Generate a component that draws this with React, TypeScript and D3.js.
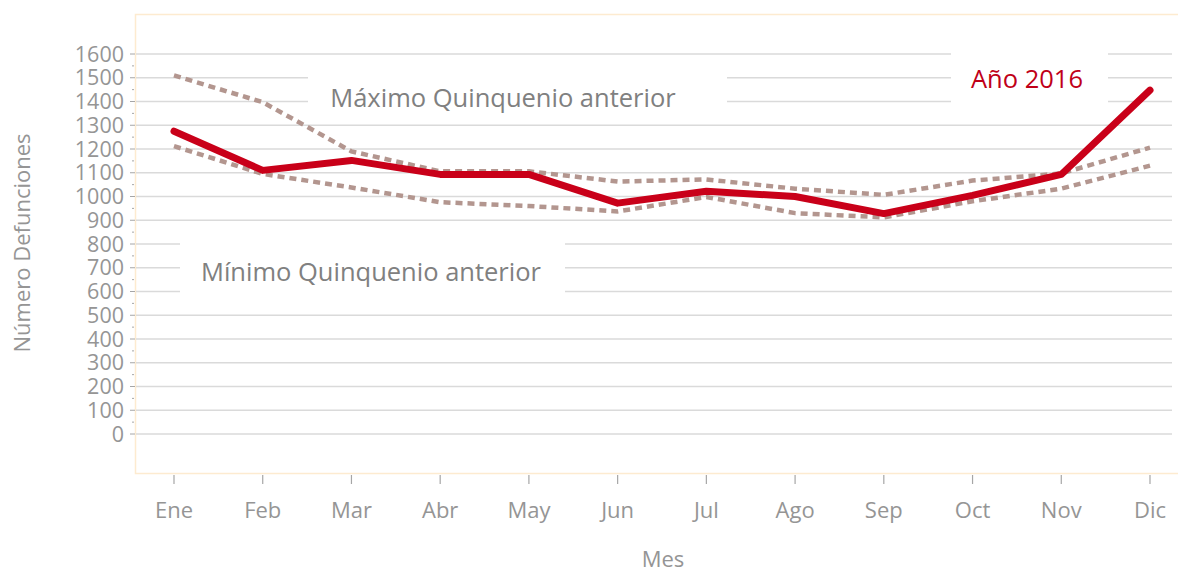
import React from "react";
import * as d3 from "d3";

const months = ["Ene", "Feb", "Mar", "Abr", "May", "Jun", "Jul", "Ago", "Sep", "Oct", "Nov", "Dic"];
const year2016 = [1275, 1110, 1152, 1093, 1093, 972, 1022, 1000, 928, 1005, 1093, 1448];
const maxPrev = [1510, 1397, 1190, 1106, 1106, 1063, 1072, 1033, 1007, 1067, 1097, 1206];
const minPrev = [1212, 1095, 1038, 976, 960, 937, 998, 930, 912, 980, 1033, 1130];
const yTicks = d3.range(0, 1601, 100);
const yMinor = d3.range(50, 1600, 100);

const W = 1178, H = 572;
const FONT = "'Open Sans', sans-serif";
const GRAY = "#959595";

export default function App() {
  const x = d3.scalePoint<string>().domain(months).range([174, 1150]);
  const y = d3.scaleLinear().domain([0, 1600]).range([434, 54]);
  const line = d3.line<number>().x((_, i) => x(months[i]) as number).y((d) => y(d));

  return (
    <svg width={W} height={H} style={{ position: "absolute", left: 0, top: 0, background: "#fff" }}>
      {/* plot border */}
      <rect x={135.5} y={14.5} width={1050} height={459} fill="none" stroke="#fdebd0" strokeWidth={1.5} />
      {/* gridlines */}
      {yTicks.map((t) => (
        <line key={t} x1={136} x2={1172} y1={y(t)} y2={y(t)} stroke="#dadada" strokeWidth={1.3} />
      ))}
      {/* y ticks */}
      {yTicks.map((t) => (
        <g key={"yt" + t}>
          <line x1={130} x2={135} y1={y(t)} y2={y(t)} stroke="#a6a6a6" strokeWidth={1} />
          <text x={124} y={y(t)} dy="0.36em" textAnchor="end" fontFamily={FONT} fontSize={21.5} fill={GRAY}>
            {t}
          </text>
        </g>
      ))}
      {yMinor.map((t) => (
        <line key={"ym" + t} x1={132} x2={134} y1={y(t)} y2={y(t)} stroke="#a6a6a6" strokeWidth={1} />
      ))}
      {/* x ticks */}
      {months.map((m) => (
        <g key={m}>
          <line x1={x(m)} x2={x(m)} y1={475} y2={484} stroke="#a6a6a6" strokeWidth={1.2} />
          <text x={x(m)} y={518} textAnchor="middle" fontFamily={FONT} fontSize={22} fill={GRAY}>
            {m}
          </text>
        </g>
      ))}
      {/* axis titles */}
      <text x={663} y={567} textAnchor="middle" fontFamily={FONT} fontSize={22} fill={GRAY}>
        Mes
      </text>
      <text
        transform={`translate(30,243) rotate(-90)`}
        textAnchor="middle"
        fontFamily={FONT}
        fontSize={22}
        fill={GRAY}
      >
        Número Defunciones
      </text>
      {/* label boxes */}
      <rect x={308} y={70} width={419} height={53} fill="#fff" />
      <text x={503} y={107} textAnchor="middle" fontFamily={FONT} fontSize={25.5} fill="#808080">
        Máximo Quinquenio anterior
      </text>
      <rect x={180} y={240} width={385} height={54} fill="#fff" />
      <text x={371} y={281} textAnchor="middle" fontFamily={FONT} fontSize={25.5} fill="#808080">
        Mínimo Quinquenio anterior
      </text>
      <rect x={951} y={46} width={157} height={67} fill="#fff" />
      <text x={1027} y={88} textAnchor="middle" fontFamily={FONT} fontSize={25.5} fill="#c00018">
        Año 2016
      </text>
      {/* series */}
      <path d={line(maxPrev) || ""} fill="none" stroke="#b3968f" strokeWidth={4.5} strokeDasharray="7,5" />
      <path d={line(minPrev) || ""} fill="none" stroke="#b3968f" strokeWidth={4.5} strokeDasharray="7,5" />
      <path
        d={line(year2016) || ""}
        fill="none"
        stroke="#c90019"
        strokeWidth={7}
        strokeLinejoin="round"
        strokeLinecap="round"
      />
    </svg>
  );
}
